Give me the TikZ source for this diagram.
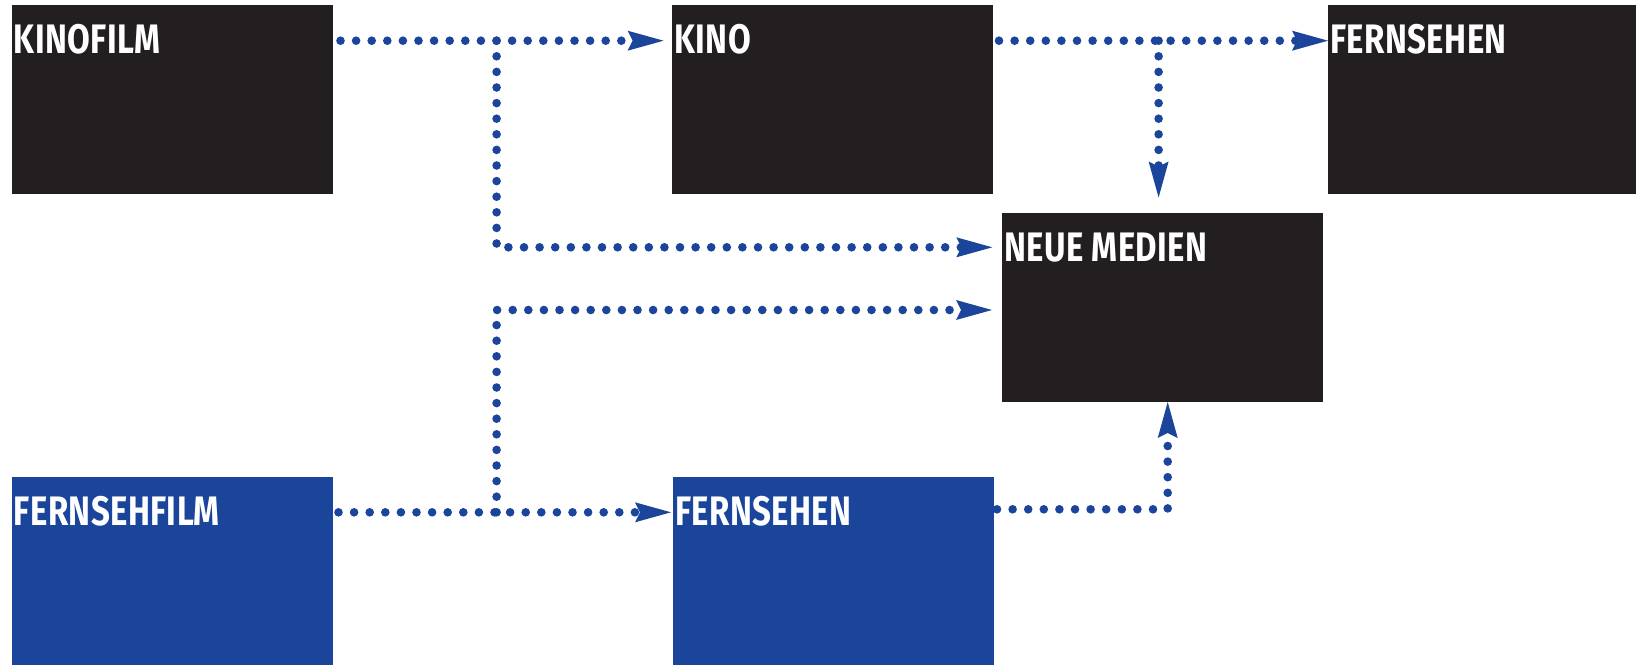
\documentclass[tikz,border=0pt]{standalone}
\usepackage{fontspec}
\newfontfamily\labfont{Fira Sans}[FakeStretch=0.8, LetterSpace=1]
\usetikzlibrary{arrows.meta,calc}
\definecolor{boxblack}{HTML}{231F20}
\definecolor{mediablue}{HTML}{1A459B}
\tikzset{
  x=0.5pt, y=-0.5pt,
  mediabox/.style={anchor=north west, minimum width=160.5pt, minimum height=94.5pt,
    inner sep=0pt, outer sep=0pt, draw=none},
  blackbox/.style={mediabox, fill=boxblack},
  bluebox/.style={mediabox, fill=mediablue},
  lab/.style={anchor=base west, inner sep=0pt, text=white,
    font=\labfont\bfseries\fontsize{20.6pt}{22pt}\selectfont},
  conn/.style={draw=mediablue, line width=4.3pt, line cap=round,
    dash pattern=on 0pt off 7.8pt,
    -{Stealth[length=18pt, width=10pt, inset=2.5pt, line width=0pt]}},
}
\begin{document}
\begin{tikzpicture}
\fill[white] (0,0) rectangle (1636,664);
\useasboundingbox (0,0) rectangle (1636,664);

% boxes
\node[blackbox] (kinofilm) at (11.5,5) {};
\node[blackbox] (kino) at (672,5) {};
\node[blackbox] (fern1) at (1328,5) {};
\node[blackbox] (neue) at (1002,213) {};
\node[bluebox] (fsfilm) at (11.5,477) {};
\node[bluebox] (fern2) at (673,477) {};

% titles
\node[lab] (tkinofilm) at ($(kinofilm.north west)+(2,48)$) {KINOFILM};
\node[lab] (tkino) at ($(kino.north west)+(2,48)$) {KINO};
\node[lab] (tfern1) at ($(fern1.north west)+(2,48)$) {FERNSEHEN};
\node[lab] (tneue) at ($(neue.north west)+(2,48)$) {NEUE MEDIEN};
\node[lab] (tfsfilm) at ($(fsfilm.north west)+(2,48)$) {FERNSEHFILM};
\node[lab] (tfern2) at ($(fern2.north west)+(2,48)$) {FERNSEHEN};

% cinema line
\draw[conn, shorten <=4pt, shorten >=4.2pt]
  ($(kinofilm.north east)+(0,35.7)$) -- ($(kino.north west)+(0,35.7)$);
\coordinate (b1) at (496.6,40.7);
\draw[conn, shorten >=4.85pt] (b1) |- ($(neue.north west)+(0,34.3)$);

\draw[conn, shorten <=3pt]
  ($(kino.north east)+(0,35.7)$) -- ($(fern1.north west)+(0,35.7)$);
\coordinate (b2) at (1158.6,40.7);
\draw[conn, shorten >=7.75pt] (b2) -- (b2 |- neue.north);

% television line
\draw[conn, shorten <=3pt, shorten >=1pt]
  ($(fsfilm.north east)+(0,35.3)$) -- ($(fern2.north west)+(0,35.3)$);
\coordinate (b3) at (496.6,512.3);
\draw[conn, shorten >=5pt] (b3) |- ($(neue.north west)+(0,97)$);

\draw[conn, shorten <=1.5pt]
  ($(fern2.north east)+(0,32.3)$) -| ([xshift=2.6pt]neue.south);
\end{tikzpicture}
\end{document}
